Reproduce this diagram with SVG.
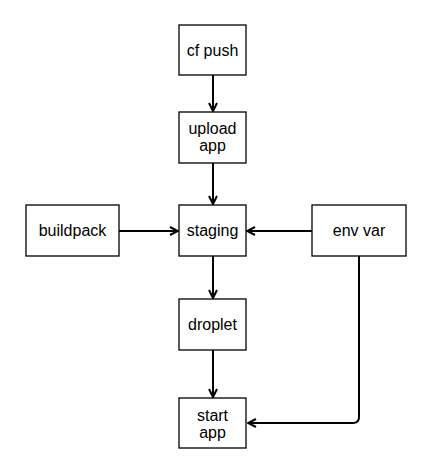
<svg xmlns="http://www.w3.org/2000/svg" width="423" height="462" viewBox="0 0 423 462">
<style>
.box{fill:#fff;stroke:#000;stroke-width:1.3}
.t{font-family:"Liberation Sans",Arial,sans-serif;font-size:16px;fill:#000;text-anchor:middle}
.c{fill:none;stroke:#000;stroke-width:2}
</style>
<defs>
<marker id="a" viewBox="0 0 10 10" refX="9" refY="5" markerWidth="10" markerHeight="10" markerUnits="userSpaceOnUse" orient="auto">
<path d="M1,1 L9,5 L1,9" fill="none" stroke="#000" stroke-width="2"/>
</marker>
</defs>
<rect width="423" height="462" fill="#fff"/>
<g id="connectors">
<path class="c" d="M213,75 V111" marker-end="url(#a)"/>
<path class="c" d="M213,163 V204" marker-end="url(#a)"/>
<path class="c" d="M119,231 H178" marker-end="url(#a)"/>
<path class="c" d="M312,231 H247" marker-end="url(#a)"/>
<path class="c" d="M213,256 V298" marker-end="url(#a)"/>
<path class="c" d="M213,350 V397" marker-end="url(#a)"/>
<path class="c" d="M359,256 V417 Q359,423 353,423 H248" marker-end="url(#a)"/>
</g>
<g id="cfpush"><rect class="box" x="179" y="25" width="67" height="50"/><text class="t" x="212.5" y="56">cf push</text></g>
<g id="upload"><rect class="box" x="179" y="112" width="67" height="51"/><text class="t" x="212.5" y="134">upload</text><text class="t" x="212.5" y="151">app</text></g>
<g id="buildpack"><rect class="box" x="26" y="205" width="93" height="51"/><text class="t" x="72.5" y="236">buildpack</text></g>
<g id="staging"><rect class="box" x="179" y="205" width="67" height="51"/><text class="t" x="212.5" y="236">staging</text></g>
<g id="envvar"><rect class="box" x="312" y="205" width="94" height="51"/><text class="t" x="359" y="236">env var</text></g>
<g id="droplet"><rect class="box" x="179" y="299" width="67" height="51"/><text class="t" x="212.5" y="330">droplet</text></g>
<g id="startapp"><rect class="box" x="179" y="398" width="67" height="50"/><text class="t" x="212.5" y="421">start</text><text class="t" x="212.5" y="438">app</text></g>
</svg>
